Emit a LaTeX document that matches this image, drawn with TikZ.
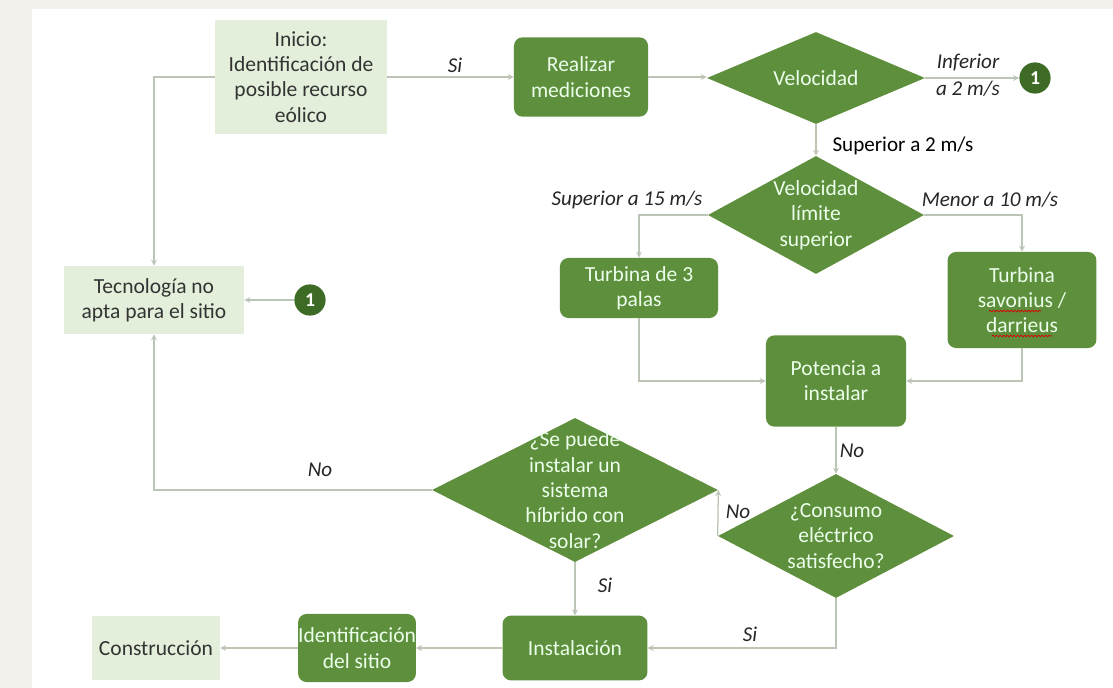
\documentclass[tikz,border=0pt]{standalone}
\usepackage{fontspec}
\setmainfont{Carlito}
\usetikzlibrary{
  positioning, arrows,
  shapes.geometric, decorations.pathmorphing
}
\definecolor{verde}{HTML}{5E8F3C}
\definecolor{verdeosc}{HTML}{3D6B26}
\definecolor{verdecl}{HTML}{E3EFDA}
\definecolor{linea}{HTML}{BCC4B6}
\definecolor{fondo}{HTML}{F4F0EC}

\tikzset{
  >=stealth,
  claro/.style={rectangle, fill=verdecl, text=black!80, align=center, inner sep=2pt},
  caja/.style={rectangle, rounded corners=6pt, fill=verde, text=white!92!green, align=center, inner sep=2pt},
  rombo/.style={diamond, fill=verde, text=white!92!green, align=center, inner sep=-14pt},
  uno/.style={circle, fill=verdeosc, text=white, font=\fontsize{14}{17}\selectfont\bfseries, inner sep=0pt, minimum size=0.78cm},
  con/.style={draw=linea, line width=0.9pt, ->},
  etq/.style={font=\fontsize{15}{19}\selectfont\itshape, text=black!85},
  rojo/.style={draw=red!85!black, line width=0.5pt, decorate, decoration={snake, amplitude=0.6pt, segment length=2.5pt}}
}

\begin{document}
\begin{tikzpicture}[x=0.025cm, y=-0.025cm, font=\fontsize{15.3}{18}\selectfont]
      \fill[fondo] (0,0) rectangle (1113,688); % background
      \fill[white] (32,9) rectangle (1113,688);
      % upper row
      \node[claro, minimum width=4.3cm, minimum height=2.85cm] (inicio) at (301,77) {Inicio:\\Identificación de\\posible recurso\\eólico};
      \node[caja, minimum width=3.35cm, minimum height=1.98cm] (medir) at (581,77) {Realizar\\mediciones};
      \node[rombo, minimum width=5.45cm, minimum height=2.3cm] (vel) at (816,78) {Velocidad};
      \node[uno] (unoA) at (1035,78) {1};
      \node[rombo, minimum width=5.4cm, minimum height=2.95cm] (limite) at (816,215) {Velocidad\\límite\\superior};
      % turbines
      \node[caja, minimum width=3.95cm, minimum height=1.5cm] (tres) at (639,288) {Turbina de 3\\palas};
      \node[caja, minimum width=3.72cm, minimum height=2.4cm] (savon) at (1022,300) {Turbina\\savonius /\\darrieus};
      \draw[rojo] ([shift={(-33,11)}]savon.center) -- ++(52,0); % spell marks
      \draw[rojo] ([shift={(-30,36)}]savon.center) -- ++(60,0);
      \node[caja, minimum width=3.5cm, minimum height=2.28cm] (potencia) at (836,381) {Potencia a\\instalar};
      % left column
      \node[claro, minimum width=4.5cm, minimum height=1.7cm] (tecno) at (154,300) {Tecnología no\\apta para el sitio};
      \node[uno] (unoB) at (310,300) {1};
      % decisions
      \node[rombo, minimum width=5.9cm, minimum height=3.1cm] (consumo) at (836,536) {¿Consumo\\eléctrico\\satisfecho?};
      \node[rombo, minimum width=7.15cm, minimum height=3.6cm] (hibrido) at (575,490) {¿Se puede\\instalar un\\sistema\\híbrido con\\solar?};
      % bottom row
      \node[caja, minimum width=3.62cm, minimum height=1.62cm] (instal) at (575,648) {Instalación};
      \node[caja, inner sep=0pt, minimum width=2.85cm, minimum height=1.7cm] (ident) at (357,648) {Identificación\\del sitio};
      \node[claro, minimum width=3.2cm, minimum height=1.62cm] (constr) at (156,648) {Construcción};

      % connectors
      \draw[con] (inicio.east) -- (medir.west);
      \draw[con] (medir.east) -- (medir.east -| vel.west);
      \draw[con] (vel.east) -- (unoA.west);
      \draw[con] (vel.south) -- (limite.north);
      \draw[con] (limite.west) -| (tres.north);
      \draw[con] (limite.east) -| (savon.north);
      \draw[con] (tres.south) |- (potencia.west);
      \draw[con] (savon.south) |- (potencia.east);
      \draw[con] (potencia.south) -- (consumo.north);
      \draw[con] (consumo.west) -- (hibrido.east);
      \draw[con] (hibrido.west) -| (tecno.south);
      \draw[con] (inicio.west) -| (tecno.north);
      \draw[con] (unoB.west) -- (tecno.east);
      \draw[con] (hibrido.south) -- (instal.north);
      \draw[con] (consumo.south) |- (instal.east);
      \draw[con] (instal.west) -- (ident.east);
      \draw[con] (ident.west) -- (constr.east);

      % labels
      \node[etq] (lsi1) at (455,65) {Si};
      \node[etq, align=center] (linf) at (968,75) {Inferior\\a 2 m/s};
      \node[font=\fontsize{15}{19}\selectfont] (lsup2) at (903,146) {Superior a 2 m/s};
      \node[etq] (lsup15) at (627,200) {Superior a 15 m/s};
      \node[etq] (lmen10) at (990,200) {Menor a 10 m/s};
      \node[etq] (lno1) at (852,451) {No};
      \node[etq] (lno2) at (738,512) {No};
      \node[etq] (lno3) at (320,470) {No};
      \node[etq] (lsi2) at (605,585) {Si};
      \node[etq] (lsi3) at (750,634) {Si};
    \end{tikzpicture}
\end{document}
